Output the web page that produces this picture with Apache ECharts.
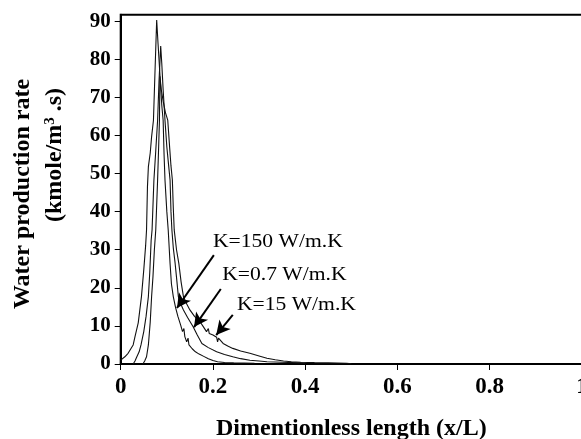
<!DOCTYPE html>
<html>
<head>
<meta charset="utf-8">
<script src="https://cdn.jsdelivr.net/npm/echarts@6/dist/echarts.min.js"></script>
<style>html,body{margin:0;padding:0;background:#fff;}#c{width:581px;height:439px;}</style>
</head>
<body>
<div id="c"></div>
<script>
// ---- data ----
var xTicks = [0, 0.2, 0.4, 0.6, 0.8, 1];
var yTicks = [0, 10, 20, 30, 40, 50, 60, 70, 80, 90];
var seriesNames = ['K=150 W/m.K', 'K=0.7 W/m.K', 'K=15 W/m.K'];
var k150 = [[0,1.0],[0.009,1.9],[0.016,2.8],[0.027,5.0],[0.031,7.2],[0.038,10.8],[0.045,17.7],[0.05,24.7],[0.054,31],[0.056,35.2],[0.058,46.5],[0.06,51.8],[0.064,55.4],[0.067,59.7],[0.071,64],[0.074,75.4],[0.078,90.3],[0.081,84],[0.085,76],[0.089,68],[0.092,64],[0.094,55],[0.096,48.3],[0.100,40],[0.103,35.2],[0.107,26.4],[0.110,21],[0.114,17.7],[0.119,14.8],[0.124,12.5],[0.130,10.2],[0.134,8.5],[0.137,9.3],[0.139,7.2],[0.143,5.8],[0.146,6.8],[0.148,5.0],[0.155,4.0],[0.162,3.2],[0.166,3.7],[0.170,2.6],[0.18,2.0],[0.19,1.4],[0.2,0.9],[0.21,0.6],[0.225,0.4],[0.245,0.3],[0.29,0.2]];
var k07 = [[0.027,0],[0.031,0.8],[0.035,1.9],[0.04,3.2],[0.044,5],[0.05,8.5],[0.055,12.5],[0.06,17.7],[0.063,24],[0.066,32.5],[0.068,35.2],[0.072,48.3],[0.076,56],[0.080,64],[0.083,74],[0.0867,83.5],[0.089,79],[0.092,72],[0.096,64],[0.1,57],[0.104,52],[0.107,48.3],[0.109,40],[0.111,35.2],[0.114,30.5],[0.118,26.4],[0.122,21.5],[0.125,17.7],[0.130,15.8],[0.136,14.2],[0.145,12.2],[0.157,9.8],[0.166,7.6],[0.176,5.4],[0.19,4.3],[0.208,3.2],[0.225,2.5],[0.243,1.9],[0.26,1.4],[0.28,1.0],[0.3,0.8],[0.317,0.6],[0.35,0.45],[0.39,0.3],[0.4,0.1]];
var k15 = [[0.048,0],[0.052,0.8],[0.056,1.9],[0.06,5],[0.064,11],[0.067,17.7],[0.07,23],[0.073,30],[0.076,35.2],[0.080,48.3],[0.082,56],[0.084,64],[0.085,75.5],[0.088,72],[0.092,69],[0.097,66],[0.102,64],[0.106,57],[0.109,52],[0.112,48.3],[0.114,41],[0.116,35.2],[0.121,30],[0.126,26.4],[0.131,21.5],[0.136,17.7],[0.142,16],[0.15,14.2],[0.16,12.5],[0.172,11.1],[0.179,9.8],[0.186,8.5],[0.19,9.3],[0.192,8.0],[0.2,7.6],[0.208,7.0],[0.21,5.8],[0.212,6.8],[0.222,5.4],[0.232,4.7],[0.243,4.1],[0.26,3.4],[0.28,2.8],[0.3,2.1],[0.317,1.5],[0.335,1.1],[0.353,0.8],[0.37,0.6],[0.39,0.45],[0.42,0.35],[0.45,0.3],[0.49,0.2],[0.5,0.05]];
// annotation anchors (data units): text start, arrow start, arrow tip
var labelPos = [[0.200, 32.0], [0.220, 23.4], [0.252, 15.5]];
var arrowFrom = [[0.202, 28.6], [0.217, 19.7], [0.243, 12.9]];
var arrowTo = [[0.122, 14.7], [0.159, 9.7], [0.207, 7.6]];

var chart = echarts.init(document.getElementById('c'), null, {renderer: 'canvas'});
var serif = '"Liberation Serif", "Times New Roman", serif';
function lineSeries(name, data, extra) {
  var s = {
    name: name, type: 'line', data: data, showSymbol: false, symbol: 'none',
    lineStyle: {color: '#111', width: 1.1}, silent: true, animation: false, z: 3
  };
  if (extra) for (var k in extra) s[k] = extra[k];
  return s;
}
var mlData = arrowFrom.map(function (f, i) { return [{coord: f}, {coord: arrowTo[i]}]; });
chart.setOption({
  animation: false,
  backgroundColor: '#fff',
  grid: {left: 120.7, right: -1, top: 14.7, bottom: 75, containLabel: false, outerBoundsMode: 'none',
         show: true, borderColor: '#000', borderWidth: 2, backgroundColor: 'transparent'},
  xAxis: {
    type: 'value', min: 0, max: 1, interval: 0.2,
    axisLine: {show: true, onZero: false, lineStyle: {color: '#000', width: 2}},
    axisTick: {show: true, length: 6, lineStyle: {color: '#000', width: 1}},
    axisLabel: {customValues: xTicks, color: '#000', fontFamily: serif, fontWeight: 'bold', fontSize: 23, margin: 12},
    splitLine: {show: false},
    name: 'Dimentionless length (x/L)', nameLocation: 'middle', nameGap: 53,
    nameTextStyle: {color: '#000', fontFamily: serif, fontWeight: 'bold', fontSize: 24}
  },
  yAxis: {
    type: 'value', min: 0, max: 91.7,
    axisLine: {show: true, lineStyle: {color: '#000', width: 2}},
    axisTick: {show: true, length: 6, customValues: yTicks, lineStyle: {color: '#000', width: 1}},
    axisLabel: {customValues: yTicks, color: '#000', fontFamily: serif, fontWeight: 'bold', fontSize: 21, margin: 10},
    splitLine: {show: false}
  },
  series: [
    lineSeries(seriesNames[0], k150),
    lineSeries(seriesNames[1], k07),
    lineSeries(seriesNames[2], k15, {
      markLine: {
        silent: true, symbol: ['none', 'arrow'], symbolSize: [11, 14], animation: false,
        lineStyle: {color: '#000', width: 2, type: 'solid'},
        label: {show: false}, emphasis: {disabled: true},
        data: mlData
      }
    })
  ]
});

var graphics = [];
labelPos.forEach(function (p, i) {
  var px = chart.convertToPixel({gridIndex: 0}, p);
  graphics.push({
    type: 'text', x: px[0], y: px[1], scaleX: 1.2, silent: true, z: 10,
    style: {text: seriesNames[i], fill: '#000', font: '18px ' + serif, textAlign: 'left', textVerticalAlign: 'middle'}
  });
});
graphics.push({
  type: 'text', x: 23, y: 194, rotation: Math.PI / 2, silent: true,
  style: {text: 'Water production rate', fill: '#000', font: 'bold 24px ' + serif, textAlign: 'center', textVerticalAlign: 'middle'}
});
graphics.push({
  type: 'text', x: 55, y: 155, rotation: Math.PI / 2, silent: true,
  style: {
    text: '(kmole/m{sup|3} .s)', fill: '#000', font: 'bold 24px ' + serif, textAlign: 'center', textVerticalAlign: 'middle',
    rich: {sup: {fontSize: 15, fontWeight: 'bold', fontFamily: serif, verticalAlign: 'top', fill: '#000', padding: [0, 0, 10, 0]}}
  }
});
chart.setOption({graphic: graphics});
</script>
</body>
</html>
